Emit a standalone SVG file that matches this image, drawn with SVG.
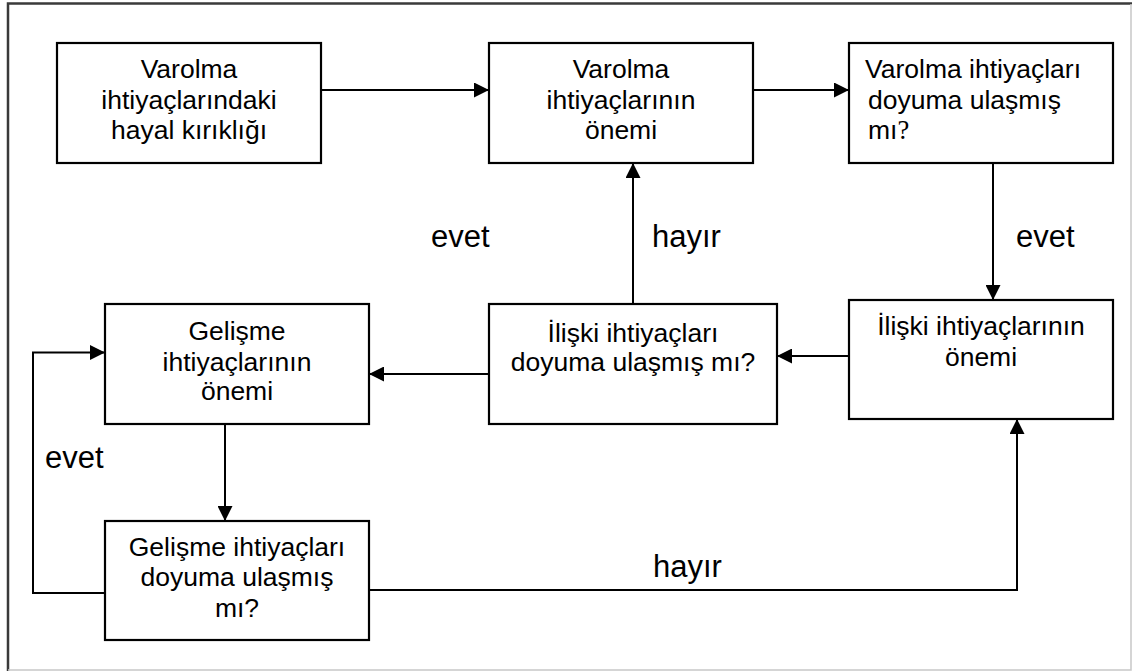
<svg xmlns="http://www.w3.org/2000/svg" width="1132" height="672" viewBox="0 0 1132 672">
  <style>
    .box { fill: #ffffff; stroke: #000000; stroke-width: 2.2; }
    .t { font-family: "Liberation Sans", Arial, sans-serif; font-size: 26.5px; fill: #000000; text-anchor: middle; }
    .tl { font-family: "Liberation Sans", Arial, sans-serif; font-size: 26.5px; fill: #000000; text-anchor: start; }
    .lbl { font-family: "Liberation Sans", Arial, sans-serif; font-size: 31px; fill: #000000; }
    .c { fill: none; stroke: #000000; stroke-width: 2; }
  </style>
  <defs>
    <marker id="arr" markerUnits="userSpaceOnUse" markerWidth="15" markerHeight="15" refX="15" refY="7.5" orient="auto">
      <path d="M0,0 L15,7.5 L0,15 Z" fill="#000000"/>
    </marker>
  </defs>
  <rect x="0" y="0" width="1132" height="672" fill="#ffffff"/>
  <!-- outer frame -->
  <path d="M8,671 V3.5 H1132" fill="none" stroke="#3a3a3a" stroke-width="2.5"/>
  <path d="M8,670 H1131 V4" fill="none" stroke="#c8c8c8" stroke-width="1.5"/>

  <g id="connectors">
    <path class="c" d="M321,90 H489" marker-end="url(#arr)"/>
    <path class="c" d="M753,90 H849" marker-end="url(#arr)"/>
    <path class="c" d="M993,158 V300" marker-end="url(#arr)"/>
    <path class="c" d="M849,356 H777" marker-end="url(#arr)"/>
    <path class="c" d="M489,374 H369" marker-end="url(#arr)"/>
    <path class="c" d="M633,304 V163" marker-end="url(#arr)"/>
    <path class="c" d="M225,424 V521" marker-end="url(#arr)"/>
    <path class="c" d="M105,593 H33 V352.5 H105" marker-end="url(#arr)"/>
    <path class="c" d="M369,590 H1017 V419" marker-end="url(#arr)"/>
    <text class="lbl" x="1016" y="247">evet</text>
    <text class="lbl" x="431" y="247">evet</text>
    <text class="lbl" x="652" y="247">hayır</text>
    <text class="lbl" x="45" y="468">evet</text>
    <text class="lbl" x="653" y="577">hayır</text>
  </g>

  <g id="node-varolma-hayal">
    <rect class="box" x="57" y="43" width="264" height="120"/>
    <text class="t" x="189" y="78">Varolma</text>
    <text class="t" x="189" y="108.5">ihtiyaçlarındaki</text>
    <text class="t" x="189" y="139">hayal kırıklığı</text>
  </g>

  <g id="node-varolma-onemi">
    <rect class="box" x="489" y="43" width="264" height="120"/>
    <text class="t" x="621" y="78">Varolma</text>
    <text class="t" x="621" y="108.5">ihtiyaçlarının</text>
    <text class="t" x="621" y="139">önemi</text>
  </g>

  <g id="node-varolma-doyum">
    <rect class="box" x="849" y="43" width="264" height="120"/>
    <text class="tl" x="865" y="78">Varolma ihtiyaçları</text>
    <text class="tl" x="868" y="109">doyuma ulaşmış</text>
    <text class="tl" x="868" y="139">mı<tspan font-family="'Liberation Serif', 'Times New Roman', serif">?</tspan></text>
  </g>

  <g id="node-iliski-onemi">
    <rect class="box" x="849" y="300" width="264" height="119"/>
    <text class="t" x="981" y="335">İlişki ihtiyaçlarının</text>
    <text class="t" x="981" y="366">önemi</text>
  </g>

  <g id="node-iliski-doyum">
    <rect class="box" x="489" y="304" width="288" height="120"/>
    <text class="t" x="633" y="341.5">İlişki ihtiyaçları</text>
    <text class="t" x="633" y="370.5">doyuma ulaşmış mı?</text>
  </g>

  <g id="node-gelisme-onemi">
    <rect class="box" x="105" y="304" width="264" height="120"/>
    <text class="t" x="237" y="340">Gelişme</text>
    <text class="t" x="237" y="370.5">ihtiyaçlarının</text>
    <text class="t" x="237" y="400">önemi</text>
  </g>

  <g id="node-gelisme-doyum">
    <rect class="box" x="105" y="521" width="264" height="119"/>
    <text class="t" x="237" y="556">Gelişme ihtiyaçları</text>
    <text class="t" x="237" y="586">doyuma ulaşmış</text>
    <text class="t" x="237" y="616.5">mı?</text>
  </g>
</svg>
